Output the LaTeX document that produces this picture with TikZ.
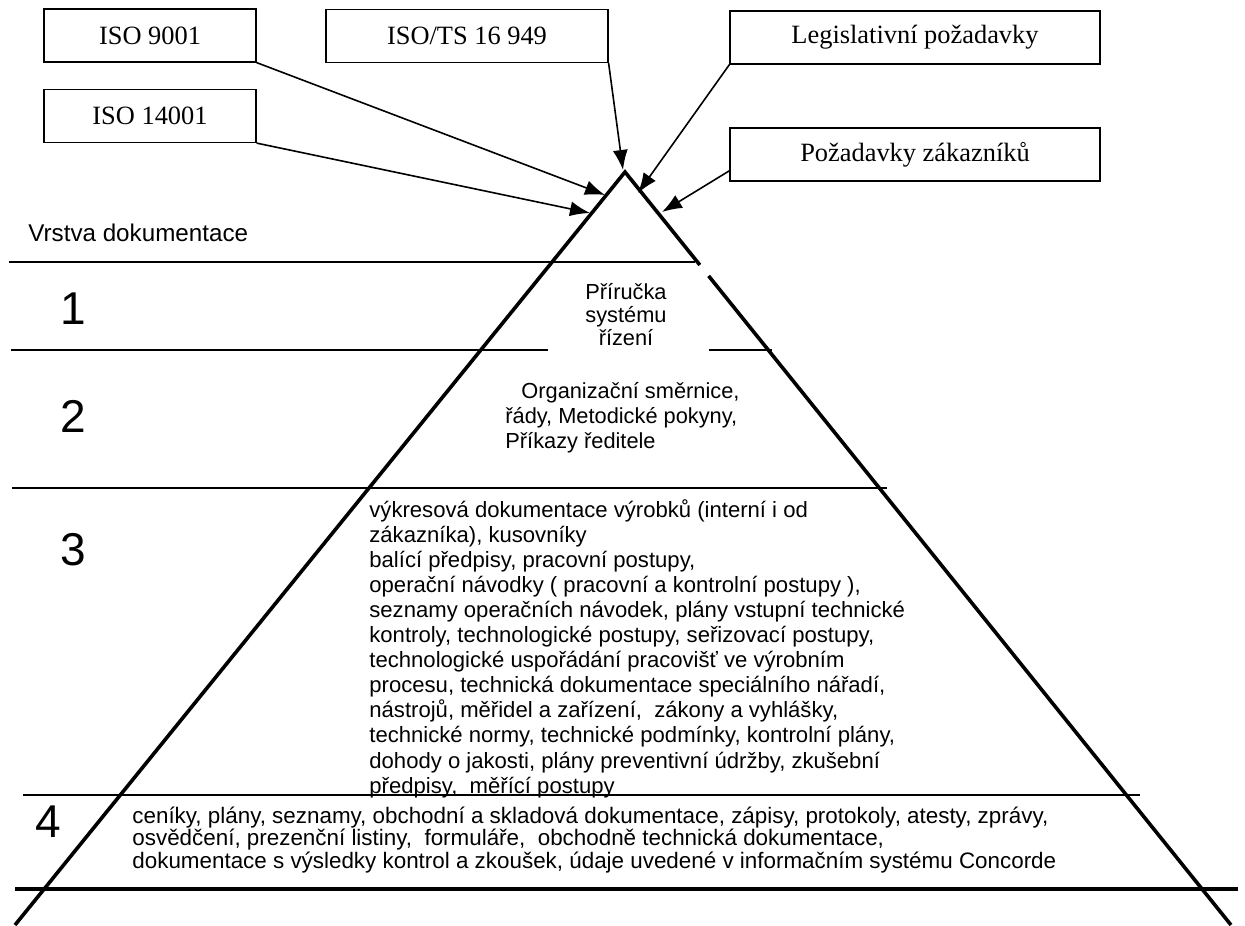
\documentclass[tikz,border=0pt]{standalone}
\usepackage{fontspec}
\setmainfont{Liberation Serif}
\setsansfont{Liberation Sans}
\usetikzlibrary{arrows.meta,calc}

\tikzset{
  srcbox/.style={draw, line width=0.6pt, inner sep=0pt, minimum height=26.5pt,
    font=\rmfamily\fontsize{13.2}{15}\selectfont},
  feed/.style={-{Latex[length=10pt,width=7.5pt]}, line width=0.8pt},
  side/.style={line width=1.8pt, line join=miter},
  layer/.style={line width=0.9pt},
  layernum/.style={font=\sffamily\fontsize{23}{26}\selectfont},
  layertext/.style={font=\sffamily\fontsize{11.05}{12.55}\selectfont, align=left, inner sep=0pt, anchor=west},
}

\begin{document}
\begin{tikzpicture}[x=0.5pt,y=-0.5pt]
  \useasboundingbox[fill=white] (0,0) rectangle (1245,925);

  \node[srcbox, minimum width=106pt] (iso9001) at (150,35.5) {ISO 9001};
  \node[srcbox, minimum width=106pt] (iso14001) at (150,116) {ISO 14001};
  \node[srcbox, minimum width=141pt] (isots) at (467,36) {ISO/TS 16 949};
  \node[srcbox, minimum width=185pt] (legis) at (915,37.5) {Legislativní požadavky};
  \node[srcbox, minimum width=185pt] (zakaz) at (915,154.5) {Požadavky zákazníků};

  \coordinate (apex) at (625,172);
  \coordinate (leftfoot) at (15,925);
  \coordinate (rightfoot) at (1231,925);
  \coordinate (gaptop) at ($(apex)!0.1235!(rightfoot)$);
  \coordinate (gapbot) at ($(apex)!0.138!(rightfoot)$);
  \draw[side] (leftfoot) -- (apex) -- (gaptop);
  \draw[side] (gapbot) -- (rightfoot);

  \coordinate (tip9001) at (605,195);
  \coordinate (tip14001) at (590,213);
  \coordinate (tipts) at (623,170);
  \coordinate (tiplegis) at (638,193);
  \coordinate (tipzakaz) at (662,212);
  \draw[feed] (iso9001.south east) -- (tip9001);
  \draw[feed] (iso14001.south east) -- (tip14001);
  \draw[feed] (isots.south east) -- (tipts);
  \draw[feed] (legis.south west) -- (tiplegis);
  \draw[feed] ($(zakaz.south west)!0.2!(zakaz.north west)$) -- (tipzakaz);

  \draw[layer] (9,262) -- (695,262);
  \draw[layer] (11,350) -- (548,350);
  \draw[layer] (709,350) -- (772,350);
  \draw[layer] (12,488) -- (887,488);
  \draw[layer] (23,795) -- (1140,795);
  \draw[line width=1.8pt] (15,889) -- (1238,889);

  \node[anchor=west, inner sep=0pt, font=\sffamily\fontsize{12.1}{14}\selectfont] (vrstva) at (28,233) {Vrstva dokumentace};
  \node[layernum] (num1) at (73,309) {1};
  \node[layernum] (num2) at (73,416) {2};
  \node[layernum] (num3) at (73,550) {3};
  \node[layernum] (num4) at (48,822) {4};

  \node[layertext, align=center, anchor=center, font=\sffamily\fontsize{10.9}{11.5}\selectfont] (layer1) at (626,315)
    {Příručka\\systému\\řízení};
  \node[layertext, font=\sffamily\fontsize{10.9}{12.5}\selectfont] (layer2) at (505,418)
    {\hspace*{8pt}Organizační směrnice,\\řády, Metodické pokyny,\\Příkazy ředitele};
  \node[layertext] (layer3) at (369,648.5)
    {výkresová dokumentace výrobků (interní i od\\
     zákazníka), kusovníky\\
     balící předpisy, pracovní postupy,\\
     operační návodky ( pracovní a kontrolní postupy ),\\
     seznamy operačních návodek, plány vstupní technické\\
     kontroly, technologické postupy, seřizovací postupy,\\
     technologické uspořádání pracovišť ve výrobním\\
     procesu, technická dokumentace speciálního nářadí,\\
     nástrojů, měřidel a zařízení, \ zákony a vyhlášky,\\
     technické normy, technické podmínky, kontrolní plány,\\
     dohody o jakosti, plány preventivní údržby, zkušební\\
     předpisy, \ měřící postupy};
  \node[layertext, font=\sffamily\fontsize{11.2}{11.25}\selectfont] (layer4) at (132,840)
    {ceníky, plány, seznamy, obchodní a skladová dokumentace, zápisy, protokoly, atesty, zprávy,\\
     osvědčení, prezenční listiny, \ formuláře, \ obchodně technická dokumentace,\\
     dokumentace s výsledky kontrol a zkoušek, údaje uvedené v informačním systému Concorde};
\end{tikzpicture}
\end{document}
